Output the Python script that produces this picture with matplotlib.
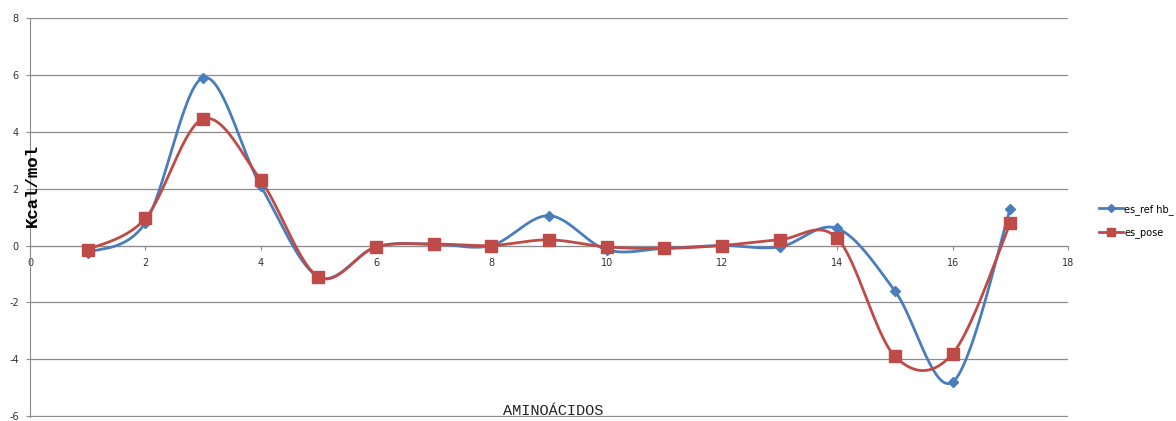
import numpy as np
import matplotlib.pyplot as plt

plt.rcParams['axes.unicode_minus'] = False

# residue index and energy terms (kcal/mol)
residues = [1, 2, 3, 4, 5, 6, 7, 8, 9, 10, 11, 12, 13, 14, 15, 16, 17]
es_ref_hb = [-0.25, 0.8, 5.9, 2.1, -1.1, -0.05, 0.05, 0.0, 1.05, -0.15,
             -0.1, 0.0, -0.05, 0.6, -1.6, -4.8, 1.3]
es_pose = [-0.15, 0.95, 4.45, 2.3, -1.1, -0.05, 0.05, 0.0, 0.2, -0.05,
           -0.1, 0.0, 0.2, 0.25, -3.9, -3.8, 0.8]
x_ticks = [0, 2, 4, 6, 8, 10, 12, 14, 16, 18]
y_ticks = [-6, -4, -2, 0, 2, 4, 6, 8]


def smooth(x, y, n=40):
    # Catmull-Rom style bezier smoothing between consecutive points
    x = np.asarray(x, float)
    y = np.asarray(y, float)
    px = np.concatenate([[x[0]], x, [x[-1]]])
    py = np.concatenate([[y[0]], y, [y[-1]]])
    xs, ys = [], []
    t = np.linspace(0, 1, n)
    for i in range(1, len(px) - 2):
        p0 = np.array([px[i], py[i]])
        p3 = np.array([px[i + 1], py[i + 1]])
        p1 = p0 + (np.array([px[i + 1], py[i + 1]]) - np.array([px[i - 1], py[i - 1]])) / 6
        p2 = p3 - (np.array([px[i + 2], py[i + 2]]) - np.array([px[i], py[i]])) / 6
        b = ((1 - t) ** 3)[:, None] * p0 + (3 * (1 - t) ** 2 * t)[:, None] * p1 \
            + (3 * (1 - t) * t ** 2)[:, None] * p2 + (t ** 3)[:, None] * p3
        xs.append(b[:, 0])
        ys.append(b[:, 1])
    return np.concatenate(xs), np.concatenate(ys)


blue = '#4A7EBB'
red = '#BE4B48'

fig = plt.figure(figsize=(11.76, 4.21), dpi=100)
ax = fig.add_axes([30 / 1176, 4 / 421, 1038 / 1176, 399 / 421])

for vals, color, marker, ms, label in [
        (es_ref_hb, blue, 'D', 5, 'es_ref hb_'),
        (es_pose, red, 's', 8, 'es_pose')]:
    sx, sy = smooth(residues, vals)
    ax.plot(sx, sy, color=color, lw=2.0, zorder=3)
    ax.plot(residues, vals, linestyle='none', marker=marker, ms=ms,
            color=color, zorder=4)
    ax.plot([], [], color=color, lw=2.0, marker=marker, ms=ms * 0.8, label=label)

ax.set_xlim(0, 18)
ax.set_ylim(-6.03, 8)
ax.set_xticks(x_ticks)
ax.set_yticks(y_ticks)
ax.grid(axis='y', color='#8c8c8c', lw=0.9)
ax.set_axisbelow(True)

for s in ['top', 'right']:
    ax.spines[s].set_visible(False)
ax.spines['bottom'].set_position(('data', 0))
ax.spines['bottom'].set_color('#8c8c8c')
ax.spines['left'].set_color('#8c8c8c')
ax.tick_params(axis='both', colors='#8c8c8c', labelcolor='#333333',
               labelsize=7, length=3, direction='out')
ax.tick_params(axis='y', pad=5)
ax.tick_params(axis='x', pad=6)

fig.text(32 / 1176, 0.56, 'Kcal/mol', rotation=90, ha='center', va='center',
         family='Liberation Mono', fontweight='bold', fontsize=12.5)
fig.text(553 / 1176, 10 / 421, 'AMINOÁCIDOS', ha='center', va='center',
         family='Liberation Mono', fontsize=11, color='#222222')

fig.legend(loc='center left', bbox_to_anchor=(1090 / 1176, 0.475), frameon=False,
           fontsize=7, handlelength=2.5, labelspacing=1.3, handletextpad=0.1)

fig.savefig('out.png', dpi=100)
